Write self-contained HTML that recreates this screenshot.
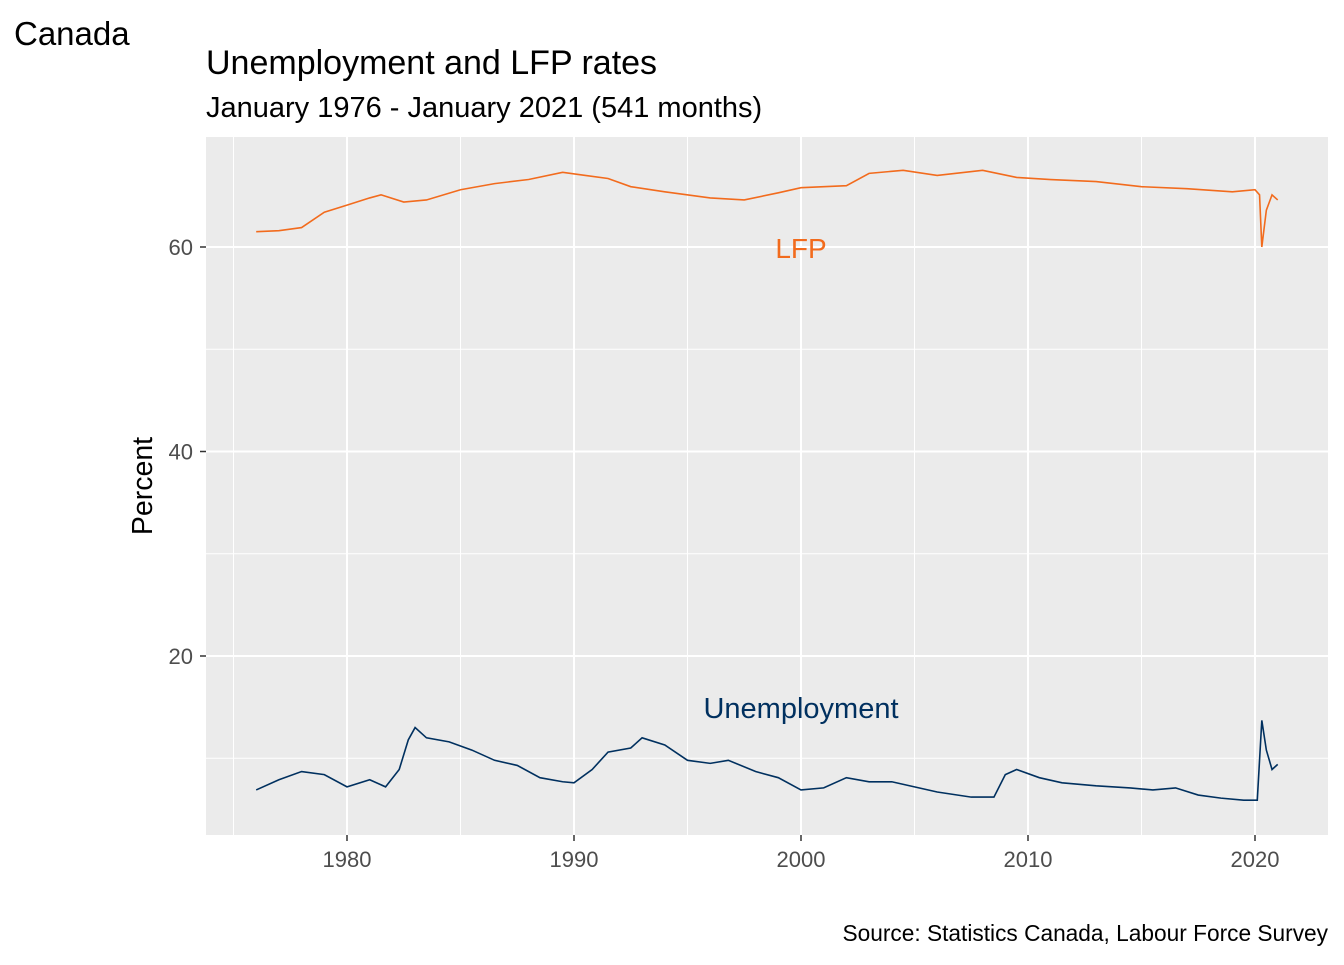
<!DOCTYPE html>
<html><head><meta charset="utf-8"><style>
body{margin:0;background:#fff;}
svg text{font-family:"Liberation Sans",Arial,sans-serif;}
</style></head><body>
<svg width="1344" height="960" viewBox="0 0 1344 960">
<rect x="0" y="0" width="1344" height="960" fill="#fff"/>
<text x="14" y="45" font-size="33" fill="#000">Canada</text>
<text x="206" y="74" font-size="34" fill="#000">Unemployment and LFP rates</text>
<text x="206" y="117" font-size="29" fill="#000">January 1976 - January 2021 (541 months)</text>
<rect x="206" y="137" width="1122" height="698" fill="#EBEBEB"/>
<g id="grid"></g>
<g id="axes"></g>
<g id="series"></g>
<text x="801" y="258" font-size="28" fill="#F26B1D" text-anchor="middle">LFP</text>
<text x="801" y="718" font-size="29" fill="#00305F" text-anchor="middle">Unemployment</text>
<text x="152" y="486" font-size="28.5" fill="#000" text-anchor="middle" transform="rotate(-90 152 486)">Percent</text>
<text x="1328" y="941" font-size="22.7" fill="#000" text-anchor="end">Source: Statistics Canada, Labour Force Survey</text>
</svg>
<script>
const xTicks=[1980,1990,2000,2010,2020];
const xMinor=[1975,1985,1995,2005,2015,2025];
const yTicks=[20,40,60];
const yMinor=[10,30,50];
const years=[1976,1977,1978,1979,1980,1981,1981.7,1982.3,1982.7,1983,1983.5,1984.5,1985.5,1986.5,1987.5,1988.5,1989.5,1990,1990.8,1991.5,1992.5,1993,1994,1995,1996,1996.8,1998,1999,2000,2001,2002,2003,2004,2005,2006,2007.5,2008.5,2009,2009.5,2010.5,2011.5,2013,2014.5,2015.5,2016.5,2017.5,2018.5,2019.5,2020.1,2020.3,2020.5,2020.75,2021];
const unemployment=[6.9,7.9,8.7,8.4,7.2,7.9,7.2,8.9,11.8,13.0,12.0,11.6,10.8,9.8,9.3,8.1,7.7,7.6,8.9,10.6,11.0,12.0,11.3,9.8,9.5,9.8,8.7,8.1,6.9,7.1,8.1,7.7,7.7,7.2,6.7,6.2,6.2,8.4,8.9,8.1,7.6,7.3,7.1,6.9,7.1,6.4,6.1,5.9,5.9,13.7,10.8,8.9,9.4];
const lfpYears=[1976,1977,1978,1979,1980,1981,1981.5,1982.5,1983.5,1985,1986.5,1988,1989.5,1990.5,1991.5,1992.5,1994,1996,1997.5,1999,2000,2002,2003,2004.5,2006,2008,2009.5,2011,2013,2015,2017,2019,2020.0,2020.2,2020.3,2020.5,2020.75,2021];
const lfp=[61.5,61.6,61.9,63.4,64.1,64.8,65.1,64.4,64.6,65.6,66.2,66.6,67.3,67.0,66.7,65.9,65.4,64.8,64.6,65.3,65.8,66.0,67.2,67.5,67.0,67.5,66.8,66.6,66.4,65.9,65.7,65.4,65.6,65.1,60.0,63.6,65.1,64.6];
const X=v=>347+(v-1980)*22.7;
const Y=v=>656-(v-20)*10.225;
const NS="http://www.w3.org/2000/svg";
function mk(parent,tag,attrs){const e=document.createElementNS(NS,tag);for(const k in attrs)e.setAttribute(k,attrs[k]);document.getElementById(parent).appendChild(e);return e;}
const x0=206,x1=1328,y0=137,y1=835;
yMinor.forEach(v=>{const l=mk('grid','line',{x1:x0,x2:x1,y1:Y(v),y2:Y(v),stroke:'#fff','stroke-width':1});

});
xMinor.forEach(v=>{if(X(v)<x0||X(v)>x1)return;const l=mk('grid','line',{x1:X(v),x2:X(v),y1:y0,y2:y1,stroke:'#fff','stroke-width':1});

});
yTicks.forEach(v=>{const l=mk('grid','line',{x1:x0,x2:x1,y1:Y(v),y2:Y(v),stroke:'#fff','stroke-width':2});


const t=mk('axes','line',{x1:200,x2:206,y1:Y(v),y2:Y(v),stroke:'#333','stroke-width':1.5});


const tx=mk('axes','text',{x:193,y:Y(v)+8,'font-size':22,fill:'#4D4D4D','text-anchor':'end'});tx.textContent=v;

});
xTicks.forEach(v=>{const l=mk('grid','line',{x1:X(v),x2:X(v),y1:y0,y2:y1,stroke:'#fff','stroke-width':2});


const t=mk('axes','line',{x1:X(v),x2:X(v),y1:835,y2:841,stroke:'#333','stroke-width':1.5});


const tx=mk('axes','text',{x:X(v),y:867,'font-size':22,fill:'#4D4D4D','text-anchor':'middle'});tx.textContent=v;

});
const pl=mk('series','polyline',{points:lfpYears.map((y,i)=>X(y)+','+Y(lfp[i])).join(' '),fill:'none',stroke:'#F26B1D','stroke-width':1.6});


const pu=mk('series','polyline',{points:years.map((y,i)=>X(y)+','+Y(unemployment[i])).join(' '),fill:'none',stroke:'#00305F','stroke-width':1.6});


</script>
</body></html>
